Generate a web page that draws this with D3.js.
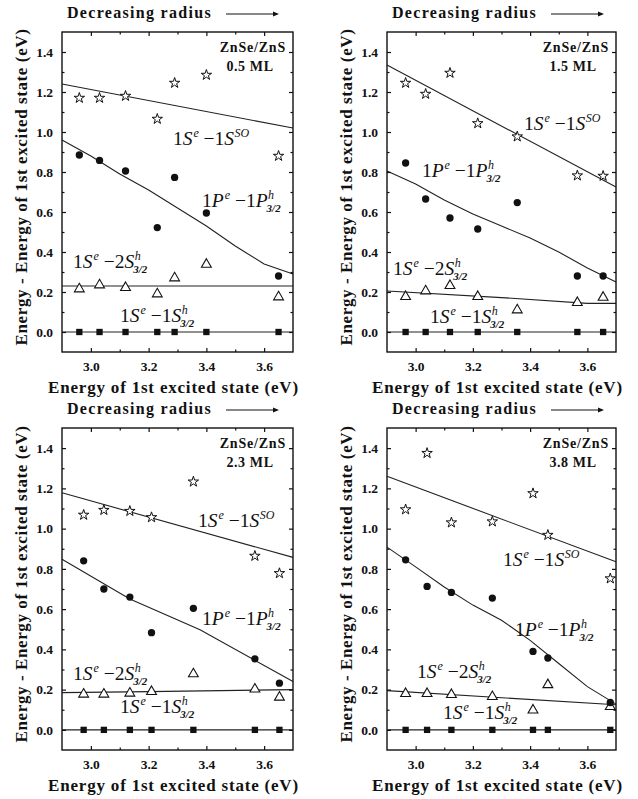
<!DOCTYPE html>
<html>
<head>
<meta charset="utf-8">
<script src="https://cdn.jsdelivr.net/npm/d3@7/dist/d3.min.js"></script>
<style>
  body { margin: 0; background: #fff; }
  svg text { font-family: "Liberation Serif", "Times New Roman", serif; fill: #111; }
</style>
</head>
<body>
<div id="chart"></div>
<script>
// shell thickness of each panel
let shellLabels = ["0.5 ML", "1.5 ML", "2.3 ML", "3.8 ML"];

// axis ticks
let xTicks = [3.0, 3.2, 3.4, 3.6];
let xMinor = [3.1, 3.3, 3.5];
let yTicks = [0.0, 0.2, 0.4, 0.6, 0.8, 1.0, 1.2, 1.4];
let yMinor = [0.1, 0.3, 0.5, 0.7, 0.9, 1.1, 1.3];

// energy of 1st excited state (x) for every dot, one row per panel
let energyX = [
  [2.96, 3.03, 3.12, 3.23, 3.29, 3.40, 3.65],
  [2.965, 3.035, 3.12, 3.217, 3.355, 3.565, 3.655],
  [2.975, 3.045, 3.135, 3.21, 3.355, 3.568, 3.653],
  [2.965, 3.04, 3.125, 3.268, 3.41, 3.462, 3.68]
];

// measured transitions (stars = 1Se-1SSO, circles = 1Pe-1P3/2, triangles = 1Se-2S3/2, squares = 1Se-1S3/2)
let soPoints = [
  [1.17, 1.17, 1.18, 1.065, 1.245, 1.285, 0.88],
  [1.245, 1.19, 1.295, 1.043, 0.977, 0.782, 0.78],
  [1.068, 1.092, 1.087, 1.056, 1.233, 0.864, 0.778],
  [1.095, 1.375, 1.03, 1.035, 1.175, 0.968, 0.752]
];
let pPoints = [
  [0.885, 0.858, 0.805, 0.522, 0.773, 0.595, 0.28],
  [0.845, 0.665, 0.57, 0.515, 0.647, 0.28, 0.28],
  [0.84, 0.70, 0.66, 0.483, 0.604, 0.353, 0.232],
  [0.845, 0.713, 0.683, 0.655, 0.39, 0.357, 0.136]
];
let s2Points = [
  [0.215, 0.235, 0.222, 0.19, 0.27, 0.338, 0.175],
  [0.177, 0.205, 0.232, 0.177, 0.11, 0.147, 0.173],
  [0.177, 0.177, 0.182, 0.19, 0.278, 0.202, 0.162],
  [0.18, 0.18, 0.175, 0.165, 0.098, 0.224, 0.115]
];
let s1Points = [
  [0, 0, 0, 0, 0, 0, 0],
  [0, 0, 0, 0, 0, 0, 0],
  [0, 0, 0, 0, 0, 0, 0],
  [0, 0, 0, 0, 0, 0, 0]
];

// theory curves as [x, y] pairs
let soFit = [
  [[2.9, 1.24], [3.7, 1.02]],
  [[2.9, 1.335], [3.7, 0.725]],
  [[2.9, 1.178], [3.7, 0.857]],
  [[2.9, 1.26], [3.7, 0.835]]
];
let pFit = [
  [[2.9, 0.96], [3.0, 0.88], [3.1, 0.79], [3.2, 0.71], [3.3, 0.62], [3.4, 0.53], [3.5, 0.43], [3.6, 0.34], [3.7, 0.29]],
  [[2.9, 0.805], [3.0, 0.74], [3.1, 0.66], [3.2, 0.59], [3.3, 0.53], [3.4, 0.47], [3.5, 0.40], [3.6, 0.32], [3.7, 0.25]],
  [[2.9, 0.848], [3.135, 0.65], [3.378, 0.497], [3.7, 0.24]],
  [[2.9, 0.908], [3.0, 0.81], [3.1, 0.71], [3.2, 0.62], [3.3, 0.545], [3.4, 0.445], [3.5, 0.33], [3.6, 0.215], [3.7, 0.128]]
];
let s2Fit = [
  [[2.9, 0.23], [3.7, 0.23]],
  [[2.9, 0.205], [3.3, 0.172], [3.6, 0.143], [3.7, 0.143]],
  [[2.9, 0.185], [3.2, 0.19], [3.45, 0.195], [3.7, 0.2]],
  [[2.9, 0.195], [3.7, 0.125]]
];
let s1Fit = [
  [[2.9, 0], [3.7, 0]],
  [[2.9, 0], [3.7, 0]],
  [[2.9, 0], [3.7, 0]],
  [[2.9, 0], [3.7, 0]]
];

// frame of each panel on the page
let frames = [
  { x0: 62, x1: 293, y0: 32, y1: 352 },
  { x0: 387, x1: 616, y0: 32, y1: 352 },
  { x0: 62, x1: 293, y0: 428, y1: 750 },
  { x0: 387, x1: 616, y0: 428, y1: 750 }
];

// where the transition names sit (data coords, left / baseline)
let labelPos = [
  { so: [3.284, 0.935], p: [3.385, 0.625], s2: [2.938, 0.32], s1: [3.101, 0.05] },
  { so: [3.379, 1.01], p: [3.022, 0.775], s2: [2.921, 0.285], s1: [3.05, 0.045] },
  { so: [3.371, 1.01], p: [3.385, 0.522], s2: [2.938, 0.248], s1: [3.101, 0.084] },
  { so: [3.305, 0.812], p: [3.347, 0.468], s2: [3.005, 0.259], s1: [3.096, 0.055] }
];

let svg = d3.select("#chart").append("svg")
  .attr("width", 638)
  .attr("height", 799);

let fmt = d3.format(".1f");

// draws e.g. 1S^e -1P^h_3/2
function stateLabel(g, x, y, n1, L1, n2, L2, sup, sub) {
  let fs = 19.5;
  let t = g.append("text").attr("x", x).attr("y", y).attr("font-size", fs);
  t.append("tspan").text(n1);
  t.append("tspan").attr("font-style", "italic").text(L1);
  t.append("tspan").attr("font-style", "italic").attr("font-size", 12).attr("dy", -8).attr("dx", 1).text("e");
  t.append("tspan").attr("dy", 8).text(" \u2212" + n2);
  t.append("tspan").attr("font-style", "italic").text(L2);
  let w = t.node().getComputedTextLength();
  g.append("text")
    .attr("x", x + w + 1.5).attr("y", y - 8)
    .attr("font-size", 12).attr("font-style", "italic")
    .text(sup);
  if (sub) {
    g.append("text")
      .attr("x", x + w).attr("y", y + 5)
      .attr("font-size", 11).attr("font-style", "italic").attr("font-weight", "bold")
      .text(sub);
  }
}

frames.forEach(function (f, i) {
  let x = d3.scaleLinear().domain([2.9, 3.7]).range([f.x0, f.x1]);
  let y = d3.scaleLinear().domain([-0.1, 1.5]).range([f.y1, f.y0]);
  let g = svg.append("g");

  // theory lines
  let line = d3.line().x(d => x(d[0])).y(d => y(d[1]));
  [soFit[i], pFit[i], s2Fit[i], s1Fit[i]].forEach(function (pts) {
    g.append("path")
      .attr("d", line(pts))
      .attr("fill", "none")
      .attr("stroke", "#222")
      .attr("stroke-width", 1.1);
  });

  // ticks (inward on all four sides)
  let bottom = d3.axisBottom(x).tickValues(xTicks).tickSize(-4).tickSizeOuter(0).tickFormat(fmt).tickPadding(9);
  let left = d3.axisLeft(y).tickValues(yTicks).tickSize(-4).tickSizeOuter(0).tickFormat(fmt).tickPadding(9);
  let top = d3.axisTop(x).tickValues(xTicks).tickSize(-4).tickSizeOuter(0).tickFormat("");
  let right = d3.axisRight(y).tickValues(yTicks).tickSize(-4).tickSizeOuter(0).tickFormat("");
  let axes = [
    [bottom, `translate(0,${f.y1})`], [left, `translate(${f.x0},0)`],
    [top, `translate(0,${f.y0})`], [right, `translate(${f.x1},0)`]
  ];
  axes.forEach(function (a) {
    let ag = g.append("g").attr("transform", a[1]).call(a[0]);
    ag.select(".domain").remove();
    ag.selectAll("line").attr("stroke", "#111").attr("stroke-width", 1.2);
    ag.selectAll("text")
      .attr("font-size", 13.5).attr("font-weight", "bold")
      .attr("font-family", "Liberation Serif, serif").attr("fill", "#111");
  });
  // minor ticks
  let minor = [
    [d3.axisBottom(x).tickValues(xMinor), `translate(0,${f.y1})`],
    [d3.axisTop(x).tickValues(xMinor), `translate(0,${f.y0})`],
    [d3.axisLeft(y).tickValues(yMinor), `translate(${f.x0},0)`],
    [d3.axisRight(y).tickValues(yMinor), `translate(${f.x1},0)`]
  ];
  minor.forEach(function (a) {
    let ag = g.append("g").attr("transform", a[1])
      .call(a[0].tickSize(-2.5).tickSizeOuter(0).tickFormat(""));
    ag.select(".domain").remove();
    ag.selectAll("line").attr("stroke", "#111").attr("stroke-width", 1.2);
  });

  // frame
  g.append("rect")
    .attr("x", f.x0).attr("y", f.y0)
    .attr("width", f.x1 - f.x0).attr("height", f.y1 - f.y0)
    .attr("fill", "none").attr("stroke", "#111").attr("stroke-width", 1.4);

  let xs = energyX[i];
  // squares
  g.selectAll(".sq").data(s1Points[i]).enter().append("path")
    .attr("transform", (d, j) => `translate(${x(xs[j])},${y(d)})`)
    .attr("d", d3.symbol().type(d3.symbolSquare).size(40))
    .attr("fill", "#111");
  // triangles
  g.selectAll(".tri").data(s2Points[i]).enter().append("path")
    .attr("transform", (d, j) => `translate(${x(xs[j])},${y(d)})`)
    .attr("d", d3.symbol().type(d3.symbolTriangle).size(42))
    .attr("fill", "#fff").attr("stroke", "#111").attr("stroke-width", 1.1);
  // circles
  g.selectAll(".dot").data(pPoints[i]).enter().append("path")
    .attr("transform", (d, j) => `translate(${x(xs[j])},${y(d)})`)
    .attr("d", d3.symbol().type(d3.symbolCircle).size(42))
    .attr("fill", "#111");
  // stars
  g.selectAll(".star").data(soPoints[i]).enter().append("path")
    .attr("transform", (d, j) => `translate(${x(xs[j])},${y(d)})`)
    .attr("d", d3.symbol().type(d3.symbolStar).size(34))
    .attr("fill", "#fff").attr("stroke", "#111").attr("stroke-width", 1);

  // transition names
  let lp = labelPos[i];
  stateLabel(g, x(lp.so[0]), y(lp.so[1]), "1", "S", "1", "S", "SO", null);
  stateLabel(g, x(lp.p[0]), y(lp.p[1]), "1", "P", "1", "P", "h", "3/2");
  stateLabel(g, x(lp.s2[0]), y(lp.s2[1]), "1", "S", "2", "S", "h", "3/2");
  stateLabel(g, x(lp.s1[0]), y(lp.s1[1]), "1", "S", "1", "S", "h", "3/2");

  // sample name
  g.append("text")
    .attr("x", f.x1 - 7).attr("y", f.y0 + 20)
    .attr("text-anchor", "end")
    .attr("font-size", 14).attr("font-weight", "bold")
    .attr("letter-spacing", 0.8)
    .text("ZnSe/ZnS");
  g.append("text")
    .attr("x", f.x1 - 43).attr("y", f.y0 + 39)
    .attr("text-anchor", "middle")
    .attr("font-size", 14).attr("font-weight", "bold")
    .attr("letter-spacing", 0.6)
    .text(shellLabels[i]);

  // axis titles
  g.append("text")
    .attr("x", (f.x0 + f.x1) / 2 - 4).attr("y", f.y1 + 41)
    .attr("text-anchor", "middle")
    .attr("font-size", 17).attr("font-weight", "bold")
    .attr("letter-spacing", 0.8)
    .text("Energy of 1st excited state (eV)");
  g.append("text")
    .attr("transform", `translate(${f.x0 - 35},${(f.y0 + f.y1) / 2 - 5}) rotate(-90)`)
    .attr("text-anchor", "middle")
    .attr("font-size", 17).attr("font-weight", "bold")
    .attr("letter-spacing", 0.6)
    .text("Energy - Energy of 1st excited state (eV)");

  // "Decreasing radius" arrow above the frame
  g.append("text")
    .attr("x", f.x0 + 5).attr("y", f.y0 - 14)
    .attr("font-size", 16).attr("font-weight", "bold")
    .attr("letter-spacing", 1.3)
    .text("Decreasing radius");
  let ay = f.y0 - 18;
  g.append("line")
    .attr("x1", f.x0 + 164).attr("x2", f.x0 + 214)
    .attr("y1", ay).attr("y2", ay)
    .attr("stroke", "#111").attr("stroke-width", 1);
  g.append("path")
    .attr("d", `M${f.x0 + 217},${ay} l-6,-2.5 l0,5 z`)
    .attr("fill", "#111");
});
</script>
</body>
</html>
